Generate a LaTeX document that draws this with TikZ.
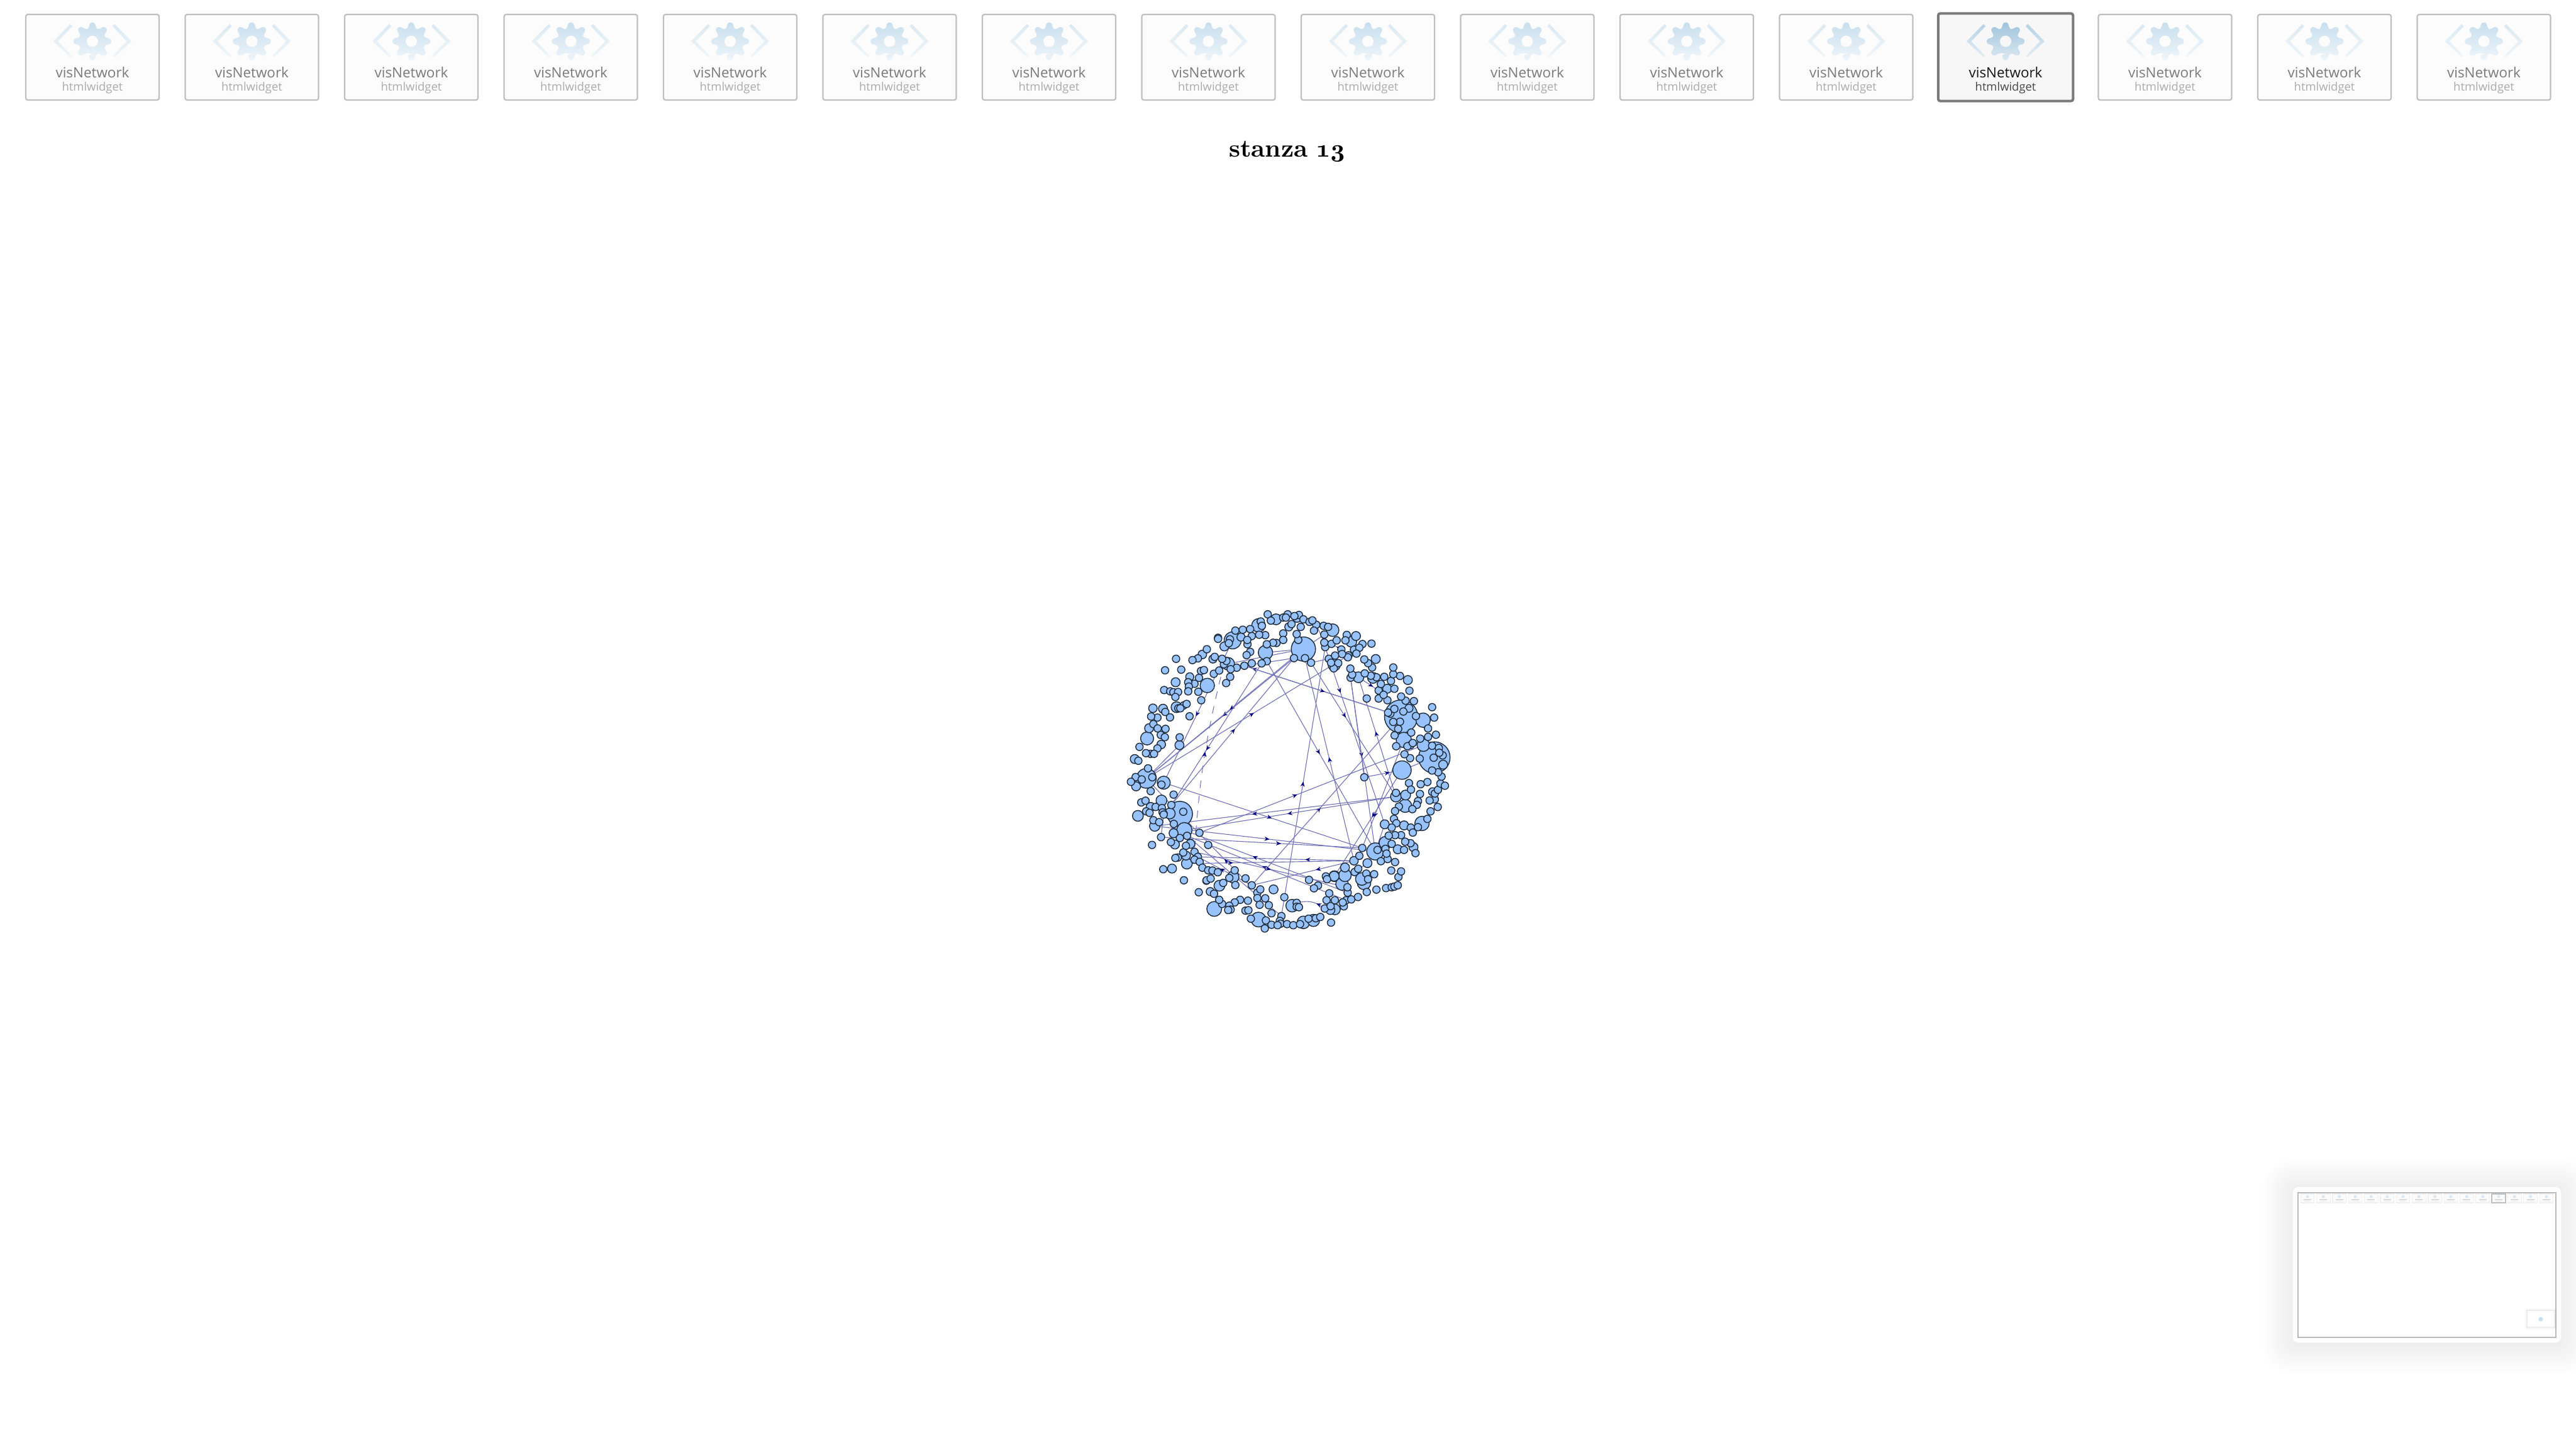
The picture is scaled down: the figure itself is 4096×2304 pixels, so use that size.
\documentclass[tikz,border=0pt]{standalone}
\usepackage{fontspec}
\setsansfont{Open Sans}
\newfontfamily\titlefont[Numbers=OldStyle]{Latin Modern Roman}
\usetikzlibrary{arrows.meta,decorations.markings,calc}
\pgfdeclarelayer{edgelayer}
\pgfsetlayers{edgelayer,main}
\definecolor{nodefill}{HTML}{97C2FC}
\definecolor{nodeline}{HTML}{1F2D3D}
\definecolor{edgecol}{HTML}{7272BA}
\definecolor{tipcol}{HTML}{000080}
\definecolor{geartop}{HTML}{C9DFEE}
\definecolor{gearbot}{HTML}{EEF5FA}
\definecolor{chevtop}{HTML}{DCE9F2}
\definecolor{chevbot}{HTML}{F0F6FA}
\definecolor{agtop}{HTML}{9FC4DC}
\definecolor{agbot}{HTML}{DCE9F2}
\definecolor{actop}{HTML}{B5D2E5}
\definecolor{acbot}{HTML}{E3EEF5}
\tikzset{
  netnode/.style={circle,draw=nodeline,fill=nodefill,line width=0.36pt,inner sep=0pt,outer sep=0pt},
  edgeline/.style={draw=edgecol,line width=0.28pt},
  midarrow/.style={postaction={decorate},decoration={markings,mark=at position #1 with {\arrow{Stealth[length=2pt,width=1.7pt,color=tipcol]}}}},
  widgetbox/.style={rectangle,rounded corners=0.8pt,draw=#1,inner sep=0pt,minimum width=53pt,minimum height=34pt},
  minibox/.style={rectangle,draw=black!6,fill=black!1,line width=0.3pt,inner sep=0pt,minimum width=5.4pt,minimum height=3.5pt},
  labelmain/.style={anchor=base,inner sep=0pt,font=\sffamily\fontsize{5.6}{6}\selectfont},
  labelsub/.style={anchor=base,inner sep=0pt,font=\sffamily\fontsize{4.6}{5}\selectfont}
}
\newcommand{\widgeticon}[5]{% cx, gear top, gear bottom, chevron top, chevron bottom
  \begin{scope}[shift={(#1,65.7)}]
    \path[top color=#4,bottom color=#5,draw=none]
      (-62,0) -- (-35.3,-27.4) -- (-32,-24) -- (-54.7,0) -- (-32,23.6) -- (-35.3,25) -- cycle;
    \path[top color=#4,bottom color=#5,draw=none]
      (62,0) -- (35.3,-27.4) -- (32,-24) -- (54.7,0) -- (32,23.6) -- (35.3,25) -- cycle;
    \path[top color=#2,bottom color=#3,rounded corners=1pt]
      (74:21) \foreach \ga in {90,45,0,-45,-90,-135,180,135}{
        -- ({\ga+16}:21) -- ({\ga+8}:30.5) -- ({\ga-8}:30.5) -- ({\ga-16}:21)
      } -- cycle;
  \end{scope}
}
\begin{document}
\begin{tikzpicture}[x=0.25pt,y=-0.25pt]
\useasboundingbox (0,0) rectangle (4096,2304);
\begin{pgfonlayer}{edgelayer}
\fill[white] (0,0) rectangle (4096,2304);
\end{pgfonlayer}

% ---- thumbnail strip
\foreach \k in {0,...,15}{
  \pgfmathsetmacro{\cx}{147+253.5*\k}
  \ifnum\k=12\relax
    \node[widgetbox=black!52,line width=1pt,minimum width=53.6pt,minimum height=34.8pt,fill=black!3] (box\k) at (\cx,91) {};
    \widgeticon{\cx}{agtop}{agbot}{actop}{acbot}
    \fill[black!3] (\cx,65.7) circle (9);
    \node[labelmain,text=black!92] (main\k) at (\cx,123) {visNetwork};
    \node[labelsub,text=black!72] (sub\k) at (\cx,144) {htmlwidget};
  \else
    \node[widgetbox=black!25,line width=0.55pt,fill=black!1] (box\k) at (\cx,91) {};
    \widgeticon{\cx}{geartop}{gearbot}{chevtop}{chevbot}
    \fill[black!1] (\cx,65.7) circle (9);
    \node[labelmain,text=black!52] (main\k) at (\cx,123) {visNetwork};
    \node[labelsub,text=black!33] (sub\k) at (\cx,144) {htmlwidget};
  \fi
}

% ---- title
\node[inner sep=0pt,font=\titlefont\bfseries\fontsize{9.9}{12}\selectfont] (title) at (2047,241) {stanza 13};

% ---- minimap
\foreach \g in {1,...,16}{
  \fill[black,opacity=0.0045,rounded corners=\g*0.75pt] ({3646-3*\g},{1887-3*\g+2}) rectangle ({4072+3*\g},{2134+3*\g+2});
}
\node[rectangle,rounded corners=2pt,fill=white,inner sep=0pt,minimum width=106.5pt,minimum height=61.75pt] (panel) at (3859,2010.5) {};
\node[rectangle,draw=black!27,line width=0.35pt,inner sep=0pt,minimum width=102.5pt,minimum height=57.5pt] (frame) at (3859,2011) {};
\foreach \k in {0,...,15}{
  \pgfmathsetmacro{\mx}{3669+25.33*\k}
  \ifnum\k=12\relax
    \node[minibox,draw=black!25,line width=0.4pt] (mini\k) at (\mx,1905) {};
  \else
    \node[minibox] (mini\k) at (\mx,1905) {};
  \fi
  \fill[chevtop] (\mx,1902) circle (2.6);
  \fill[black!14] ({\mx-6},1906.4) rectangle ({\mx+6},1907.8);
  \fill[black!8] ({\mx-5},1908.6) rectangle ({\mx+5},1909.6);
}
\foreach \g in {1,...,4}{
  \fill[black,opacity=0.02] ({4019-\g},{2084-\g}) rectangle ({4061+\g},{2109+\g});
}
\node[rectangle,fill=white,inner sep=0pt,minimum width=10.5pt,minimum height=6.25pt] (tiny) at (4040,2096.5) {};
\fill[geartop] (4040,2097) circle (3.6);

% ---- network
\begin{scope}[shift={(1760,950)},x=0.0892857pt,y=-0.0862069pt]
% named nodes
\foreach \nm/\x/\y/\rr in {
A1/875/237/54,A2/706/253/32,A6/560/197/38,A8/1310/548/74,A10/1458/737/70,A11/1409/680/28,A12/1314/795/41,
A13/176/833/44,A14/253/853/29,A15/325/997/56,A16/345/1072/34,A20/213/1053/23,A21/356/1226/24,A31/1013/1284/24,
A36/1195/1170/38,A39/1287/917/24,A42/1322/656/34,A44/1120/367/24,A43/1012/310/27,A50/540/305/28}{
  \node[netnode,minimum size=\rr*0.1786pt] (\nm) at (\x,\y) {};
}
% medium nodes
\foreach \x/\y/\rr in {
753/100/24,1005/150/28,447/405/32,675/128/30,1408/565/32,179/649/29,243/935/24,138/1006/24,478/1435/33,
290/1249/20,501/1328/24,562/1288/26,675/1484/33,742/1345/20,825/1420/28,875/1497/28,920/1488/27,1047/1320/28,1060/1280/28,
1145/1315/30,1135/1297/28,1240/1130/28,1328/960/29,1330/910/22,1403/1041/32,1185/370/24,1088/203/24,1340/380/20,1197/283/20,
1109/177/20,310/505/24,250/512/20,306/390/20,369/365/18,242/677/19,205/510/19,188/602/20,425/262/19,1015/1437/24,995/1440/20,
280/995/24,303/1138/20,372/1135/20,195/965/20,352/1189/20,297/1086/20,129/860/20,130/870/20,124/744/20,
847/93/20,810/135/18,597/182/18,523/225/20,472/283/18,1497/770/20,1248/420/20,1345/510/18,1295/1160/20,1365/1150/20,1323/1050/20,
1060/1244/20,1012/1284/22,460/1355/18,1450/895/18}{
  \node[netnode,minimum size=\rr*0.1786pt] at (\x,\y) {};
}
% endpoints that are small
\foreach \nm/\x/\y/\rr in {
P882/882/279/16.5,P833/833/279/16.5,P909/909/300/16.5,P712/712/293/16.5,P689/689/303/16.5,P612/612/314/16.5,Q645/645/1326/16.5,
P1076/1076/266/16.5,P287/287/956/16.5,P390/390/1172/16.5,P521/521/307/16.5,P1100/1100/1213/19,P777/777/1468/16.5,P972/972/228/16.5,
P1237/1237/1045/20,P1085/1085/369/16.5,P1146/1146/828/16.5,P1210/1210/428/16.5,P412/412/1084/16.5,P1137/1137/1154/16.5,P241/241/1104/16.5,
P405/405/1195/16.5,P1072/1072/1360/16.5,P1065/1065/1395/16.5,P357/357/1098/16.5,P1071/1071/1335/16.5,P670/670/1360/16.5,P970/970/1433/16.5,
P845/845/1407/16.5,P1103/1103/1265/16.5,P1160/1160/1224/20,P1044/1044/239/16.5,P1000/1000/213/16.5,P323/323/680/20,P968/968/170/16.5,
P932/932/125/16.5,P968b/968/207/16.5,P988/988/282/16.5,P253/253/997/16.5}{
  \node[netnode,minimum size=\rr*0.1786pt] (\nm) at (\x,\y) {};
}
% remaining small nodes
\foreach \x/\y [count=\i] in {
716/77,730/106,805/77,785/92,797/92,855/80,835/85,875/100,822/122,863/135,902/112,915/105,922/152,965/130,985/135,
1023/197,1068/172,1062/197,1100/240,1138/214,1178/212,1124/231,1111/258,1073/275,1047/260,1016/267,1030/302,1010/326,998/300,
852/195,845/168,785/165,785/195,755/209,740/208,712/215,705/173,678/171,645/177,626/215,638/250,622/265,645/303,578/323,551/330,
532/292,513/282,480/273,445/238,405/280,381/288,308/282,259/335,331/332,419/338,432/334,476/351,410/370,390/397,362/390,365/410,
362/432,407/434,420/473,549/365,531/394,500/336,572/152,605/148,638/145,625/195,548/192,543/210,495/185,495/190,685/110,690/130,
255/426,282/432,296/436,317/435,305/458,342/497,318/510,327/510,355/490,368/547,260/527,281/552,225/553,197/548,207/583,226/603,
261/605,240/633,258/643,225/695,194/720,174/717,210/720,145/688,140/752,324/644,183/787,128/827,107/849,155/838,202/828,243/862,
195/892,297/908,153/944,172/936,217/965,175/985,190/992,245/970,248/990,253/1000,340/987,207/1026,233/1035,298/1043,325/1108,
201/1140,285/1127,352/1144,451/1140,340/1175,316/1198,305/1200,390/1208,413/1218,425/1245,251/1252,451/1257,470/1258,494/1266,
343/1303,443/1305,444/1303,462/1295,409/1358,477/1365,518/1315,545/1292,569/1257,572/1325,617/1294,683/1345,670/1385,705/1386,
680/1416,721/1418,628/1397,593/1393,569/1405,545/1420,513/1412,500/1393,551/1438,540/1440,617/1443,630/1441,641/1480,733/1455,
790/1381,708/1488,733/1508,770/1490,773/1503,703/1525,760/1510,802/1505,830/1510,860/1505,898/1480,930/1478,950/1472,998/1498,
845/1425,855/1427,978/1395,996/1422,1015/1395,990/1363,1055/1423,1050/1405,1088/1391,1118/1380,975/1285,980/1298,900/1301,940/1327,922/1340,
1124/1190,1119/1250,1155/1272,1190/1275,1163/1298,1157/1357,1200/1346,1243/1339,1268/1335,1280/1332,1295/1326,1298/1288,1310/1262,
1266/1258,1283/1219,1220/1215,1250/1205,1205/1163,1240/1158,1245/1180,1268/1135,1323/1163,1374/1178,1352/1132,1328/1125,1310/1095,
1283/1095,1255/1097,1278/1020,1289/1040,1268/1060,1353/1060,1362/1083,1385/1058,1427/1020,1441/985,1473/965,1460/930,1437/935,
1460/903,1474/886,1485/857,1505/867,1490/825,1475/805,1448/797,1427/850,1397/860,1345/855,1354/885,1394/905,1385/938,1380/955,
1360/975,1300/963,1283/984,1287/900,1448/505,1457/553,1430/603,1465/632,1430/642,1395/650,1448/683,1478/693,1495/727,1480/715,
1455/738,1393/742,1350/740,1325/722,1288/685,1352/680,1338/685,1355/622,1362/670,1281/635,1297/605,1305/572,1275/573,1262/535,
1252/530,1280/513,1320/525,1376/546,1367/477,1330/475,1310/456,1347/429,1249/473,1210/465,1157/465,1232/448,1280/420,1220/398,
1265/384,1235/365,1305/361,1275/353,1275/322,1200/367,1175/360,1148/349,1092/355,1084/327,1181/322,1163/302,1146/285}{
  \node[netnode,minimum size=16.5*0.1786pt] (s\i) at (\x,\y) {};
}
% connectors
\begin{pgfonlayer}{edgelayer}
\foreach \a/\b/\p in {
P1100/P882/0.51,P777/P972/0.5,P909/A39/0.41,P712/A36/0.5,A8/P612/0.97,P612/A8/0.56,Q645/A8/0.49,A13/P1076/0.52,
P833/A13/0.5,A1/A13/0.46,P287/P833/0.52,P689/P287/0.62,A6/A14/0.53,
P972/P1237/0.25,P1085/A36/0.47,A42/P1137/0.72,A39/A44/0.55,A44/P1210/0.8,P1146/A12/0.87,P412/A11/0.44,
A12/A31/0.42,A39/A16/0.52,A14/P1137/0.54,A20/A36/0.53,P241/P1137/0.6,P1100/Q645/0.36,P1100/P405/0.3,
P1072/A16/0.6,P1065/P357/0.53,P390/P1071/0.5,A21/P1100/0.26,P670/A15/0.46,Q645/P405/0.6,
P1103/P1160/0.6,P1044/P1000/0.5}{
  \draw[edgeline,midarrow=\p] (\a) -- (\b);
}
\foreach \a/\b in {A1/A50,A1/A2,P612/P833,P909/P988,A1/P968,A13/P323,A13/P287,P932/P968b,P777/P357,P253/P241,P1085/P1146,A12/A10,P1237/A36}{
  \draw[edgeline] (\a) -- (\b);
}
\draw[edgeline,midarrow=0.6] (A39) -- (A20);
\draw[edgeline,midarrow=0.27] (P970) to[bend right=22] (P845);
\draw[edgeline,dashed,line width=0.26pt,midarrow=0.53] (P390) to[bend left=5] (P521);
\end{pgfonlayer}
\end{scope}
\end{tikzpicture}
\end{document}
